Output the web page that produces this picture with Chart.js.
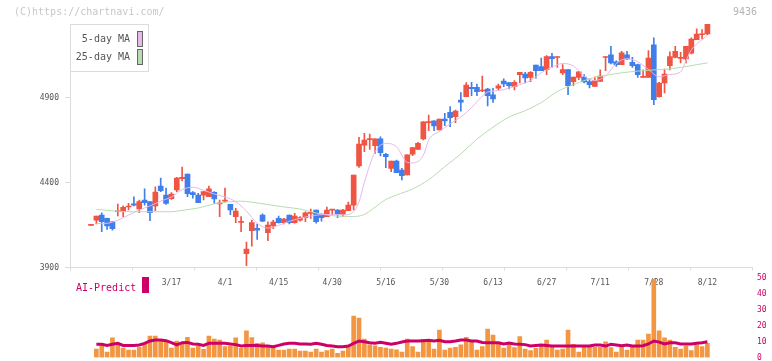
<!DOCTYPE html>
<html>
<head>
<meta charset="utf-8">
<script src="https://cdn.jsdelivr.net/npm/chart.js@4.4.0/dist/chart.umd.min.js"></script>
<style>
  html, body { margin: 0; padding: 0; background: #fff; }
  #wrap { position: relative; width: 772px; height: 361px; overflow: hidden; font-family: 'DejaVu Sans Mono', monospace; }
  #wrap canvas { position: absolute; left: 0; top: 0; }
  .txt { position: absolute; white-space: pre; font-size: 10px; line-height: 12px; }
</style>
</head>
<body>
<div id="wrap">
  <canvas id="priceChart" width="772" height="361"></canvas>
  <canvas id="volChart" width="772" height="361"></canvas>
  <div class="txt" style="left:14px;top:6px;color:#c8c8c8">(C)https://chartnavi.com/</div>
  <div class="txt" style="right:15px;top:6px;color:#b4b4b4">9436</div>
  <div class="txt" style="left:76px;top:282px;color:#cc0066">AI-Predict</div>
  <div style="position:absolute;left:142px;top:277px;width:7px;height:16px;background:#cc0066"></div>
</div>
<script>
// x axis labels (trading day index -> date)
const labelIdx = [15, 25, 35, 45, 55, 65, 75, 85, 95, 105, 115];
const xLabels = ['3/17', '4/1', '4/15', '4/30', '5/16', '5/30', '6/13', '6/27', '7/11', '7/28', '8/12'];
const yTicks = [3900, 4400, 4900];
const volTicks = [0, 10, 20, 30, 40, 50];

// daily candles, index 0 .. 115
const open = [
  4148, 4179, 4209, 4189, 4169, 4228, 4228, 4256, 4275, 4244,
  4297, 4287, 4262, 4379, 4326, 4305, 4356, 4422, 4450, 4340,
  4326, 4326, 4316, 4342, 4274, 4290, 4271, 4199, 4165, 3981,
  4116, 4130, 4209, 4105, 4144, 4189, 4164, 4209, 4164, 4179,
  4193, 4218, 4238, 4214, 4199, 4237, 4238, 4214, 4234, 4267,
  4497, 4620, 4652, 4616, 4656, 4566, 4483, 4526, 4473, 4444,
  4566, 4595, 4656, 4752, 4762, 4709, 4773, 4813, 4787, 4885,
  4905, 4960, 4960, 4938, 4950, 4915, 4954, 4997, 4987, 4964,
  5034, 5038, 5018, 5091, 5081, 5064, 5140, 5135, 5044, 5064,
  4993, 5018, 5020, 4993, 4965, 4995, 5135, 5150, 5109, 5093,
  5150, 5107, 5093, 5018, 5018, 5209, 4905, 4985, 5087, 5136,
  5130, 5126, 5160, 5240, 5269, 5273
];
const high = [
  4150, 4203, 4222, 4191, 4172, 4273, 4262, 4277, 4315, 4297,
  4362, 4287, 4375, 4426, 4367, 4340, 4430, 4491, 4450, 4346,
  4336, 4346, 4379, 4346, 4297, 4367, 4271, 4248, 4199, 4050,
  4179, 4156, 4215, 4169, 4179, 4203, 4189, 4209, 4218, 4199,
  4228, 4244, 4238, 4216, 4256, 4242, 4240, 4242, 4285, 4444,
  4666, 4689, 4685, 4656, 4669, 4571, 4526, 4532, 4483, 4562,
  4607, 4636, 4758, 4797, 4762, 4773, 4807, 4846, 4826, 4928,
  4987, 4989, 4979, 5026, 4954, 4954, 4979, 5009, 4987, 4999,
  5048, 5048, 5052, 5091, 5132, 5146, 5160, 5140, 5093, 5064,
  5020, 5054, 5034, 5009, 5022, 5062, 5140, 5201, 5116, 5171,
  5171, 5136, 5097, 5062, 5175, 5250, 4989, 5067, 5169, 5201,
  5165, 5201, 5250, 5303, 5299, 5332
];
const low = [
  4147, 4156, 4111, 4124, 4120, 4203, 4199, 4238, 4262, 4222,
  4267, 4175, 4234, 4346, 4271, 4301, 4346, 4409, 4316, 4307,
  4281, 4297, 4316, 4277, 4199, 4285, 4211, 4164, 4111, 3911,
  4026, 4065, 4169, 4058, 4128, 4160, 4156, 4156, 4160, 4173,
  4169, 4189, 4160, 4173, 4199, 4209, 4193, 4199, 4234, 4238,
  4489, 4581, 4595, 4571, 4556, 4487, 4463, 4458, 4415, 4444,
  4558, 4595, 4650, 4705, 4705, 4709, 4734, 4728, 4752, 4820,
  4905, 4911, 4911, 4934, 4850, 4871, 4944, 4964, 4950, 4944,
  4985, 4985, 4993, 5014, 5058, 5034, 5077, 5077, 5034, 4916,
  4969, 5005, 4985, 4956, 4965, 4995, 5058, 5097, 5083, 5093,
  5122, 5077, 5018, 5018, 5018, 4858, 4901, 4926, 5062, 5132,
  5103, 5103, 5156, 5240, 5244, 5269
];
const close = [
  4149, 4203, 4169, 4144, 4128, 4231, 4254, 4258, 4267, 4287,
  4281, 4222, 4344, 4352, 4277, 4332, 4426, 4430, 4334, 4328,
  4281, 4346, 4362, 4303, 4276, 4292, 4238, 4232, 4167, 4009,
  4164, 4120, 4173, 4150, 4167, 4164, 4185, 4164, 4203, 4193,
  4222, 4220, 4169, 4193, 4238, 4239, 4214, 4238, 4267, 4444,
  4626, 4650, 4654, 4656, 4575, 4552, 4526, 4458, 4440, 4562,
  4605, 4630, 4756, 4755, 4732, 4773, 4762, 4781, 4820, 4873,
  4973, 4952, 4934, 4940, 4911, 4891, 4968, 4979, 4970, 4989,
  5048, 5015, 5048, 5058, 5058, 5140, 5128, 5137, 5064, 4969,
  5020, 5050, 4991, 4975, 4999, 5026, 5137, 5103, 5093, 5162,
  5126, 5087, 5034, 5020, 5132, 4887, 4985, 5038, 5140, 5171,
  5132, 5201, 5244, 5273, 5271, 5332
];

// moving averages (index, value)
const ma5Idx = [1, 3, 5, 7, 9, 11, 13, 15, 17, 19, 21, 23, 25, 27, 29, 31, 33, 35, 37, 39,
  41, 44, 47, 49, 50, 51, 53, 55, 57, 59, 60, 62, 63, 65, 67, 69, 71, 72, 74, 76,
  78, 80, 82, 84, 86, 88, 90, 92, 94, 96, 98, 100, 102, 104, 106, 108, 110, 111, 112, 114, 115];
const ma5Val = [4158, 4160, 4178, 4208, 4238, 4262, 4290, 4315, 4358, 4372, 4355, 4332, 4315, 4287, 4232, 4160, 4132, 4148, 4172, 4189,
  4203, 4212, 4209, 4228, 4285, 4400, 4580, 4630, 4610, 4518, 4515, 4560, 4650, 4700, 4745, 4785, 4840, 4875, 4932, 4940,
  4955, 4975, 5000, 5045, 5078, 5100, 5085, 5025, 5000, 5025, 5100, 5128, 5110, 5065, 5022, 5035, 5050, 5116, 5180, 5240, 5265];
const ma25Idx = [1, 3, 5, 8, 12, 15, 17, 20, 23, 26, 28, 30, 33, 36, 39, 41, 43, 46, 49, 51,
  53, 55, 57, 60, 63, 66, 69, 72, 75, 78, 81, 84, 87, 90, 93, 96, 99, 102, 105, 108, 111, 114, 115];
const ma25Val = [4242, 4236, 4231, 4228, 4228, 4228, 4236, 4250, 4274, 4287, 4290, 4284, 4270, 4256, 4244, 4228, 4214, 4202, 4200, 4212,
  4255, 4300, 4326, 4362, 4416, 4493, 4568, 4655, 4725, 4785, 4822, 4870, 4935, 4975, 5010, 5030, 5045, 5055, 5062, 5068, 5082, 5098, 5103];

// volume and AI-Predict, from index 1 .. 115
const volStart = 1;
const volume = [
  5.3, 8.9, 3.4, 12.3, 7.9, 6.0, 4.7, 4.7, 6.4, 8.9,
  13.5, 13.5, 11.4, 9.9, 6.0, 10.4, 9.3, 12.7, 6.0, 7.2,
  5.1, 13.5, 11.6, 11.0, 6.8, 7.2, 12.3, 5.8, 16.7, 12.5,
  8.9, 9.3, 7.2, 6.4, 4.7, 4.7, 5.3, 5.3, 4.1, 4.1,
  3.4, 5.3, 3.4, 4.3, 5.3, 2.6, 4.1, 6.8, 26.1, 24.8,
  11.6, 7.9, 7.4, 6.4, 6.0, 5.3, 4.9, 3.4, 11.6, 6.8,
  3.4, 11.4, 9.9, 5.3, 17.3, 4.7, 6.0, 6.4, 7.9, 12.7,
  10.2, 4.7, 6.8, 17.9, 14.1, 8.9, 6.0, 8.9, 6.2, 13.1,
  5.3, 4.3, 5.8, 7.9, 11.0, 6.4, 4.7, 5.3, 17.3, 8.3,
  3.4, 6.4, 6.4, 6.4, 6.4, 9.9, 6.2, 3.4, 6.8, 4.7,
  7.4, 11.0, 11.0, 14.8, 49.1, 16.7, 12.3, 11.0, 6.4, 5.3,
  7.2, 4.3, 7.9, 6.8, 8.9
];
const aiPredict = [
  8.3, 8.3, 7.6, 8.3, 8.9, 7.6, 7.6, 7.6, 7.9, 8.9,
  10.4, 11.0, 11.0, 10.6, 9.3, 7.9, 9.3, 9.5, 8.5, 8.3,
  7.6, 8.9, 8.9, 8.9, 8.9, 8.5, 8.1, 7.2, 7.6, 7.6,
  7.6, 7.2, 7.2, 6.8, 7.6, 8.5, 8.9, 8.9, 8.5, 8.5,
  8.3, 8.9, 8.3, 7.6, 7.2, 6.8, 6.8, 7.2, 8.9, 10.4,
  9.9, 9.3, 8.9, 9.5, 8.9, 8.3, 8.9, 9.7, 10.4, 10.4,
  10.4, 10.6, 10.8, 10.4, 10.8, 9.9, 9.9, 10.4, 11.0, 11.0,
  10.4, 10.4, 9.5, 9.3, 9.3, 9.3, 8.5, 9.1, 8.5, 8.3,
  8.1, 7.2, 7.6, 7.9, 7.6, 7.2, 7.2, 7.2, 7.2, 7.2,
  7.2, 7.2, 7.2, 7.9, 7.9, 7.2, 8.3, 7.9, 7.4, 7.9,
  7.2, 7.2, 7.4, 8.5, 10.4, 9.7, 8.5, 9.3, 9.3, 8.5,
  8.5, 8.5, 8.9, 9.3, 9.9
];

const UP = 'rgb(240,84,66)';
const DOWN = 'rgb(64,126,236)';
const MA5_COLOR = 'rgb(232,184,232)';
const MA25_COLOR = 'rgb(184,220,176)';
const VOL_COLOR = 'rgb(242,150,66)';
const AI_COLOR = 'rgb(204,0,102)';
const AXIS_COLOR = '#dcdcdc';
const X_MIN = -3.92, X_MAX = 123.32;

Chart.defaults.font.family = "'DejaVu Sans Mono', monospace";
Chart.defaults.font.size = 8;

const idx = open.map((v, i) => i);
const candleColor = c => close[c.dataIndex] >= open[c.dataIndex] ? UP : DOWN;

// little legend box top-left (label + swatch)
const maLegend = {
    id: 'maLegend',
    afterDraw(chart) {
        const ctx = chart.ctx;
        const items = chart.data.datasets.filter(d => d.type === 'line');
        ctx.save();
        ctx.fillStyle = '#fff';
        ctx.strokeStyle = AXIS_COLOR;
        ctx.lineWidth = 1;
        ctx.fillRect(70.5, 24.5, 78, 47);
        ctx.strokeRect(70.5, 24.5, 78, 47);
        ctx.font = "10px 'DejaVu Sans Mono'";
        ctx.textAlign = 'right';
        ctx.textBaseline = 'middle';
        items.forEach((d, n) => {
            const y = 39 + n * 18;
            ctx.fillStyle = '#555';
            ctx.fillText(d.label, 130, y);
            ctx.fillStyle = d.borderColor;
            ctx.fillRect(137.5, y - 7.5, 5, 15);
            ctx.strokeStyle = '#666';
            ctx.strokeRect(137.5, y - 7.5, 5, 15);
        });
        ctx.restore();
    }
};

new Chart(document.getElementById('priceChart'), {
    type: 'bar',
    data: {
        datasets: [{
            type: 'line',
            label: '5-day MA',
            data: ma5Idx.map((x, n) => ({ x: x, y: ma5Val[n] })),
            borderColor: MA5_COLOR,
            borderWidth: 1,
            pointRadius: 0,
            cubicInterpolationMode: 'monotone',
            order: 0
        }, {
            type: 'line',
            label: '25-day MA',
            data: ma25Idx.map((x, n) => ({ x: x, y: ma25Val[n] })),
            borderColor: MA25_COLOR,
            borderWidth: 1,
            pointRadius: 0,
            cubicInterpolationMode: 'monotone',
            order: 0
        }, {
            label: 'body',
            data: idx.map(i => ({ x: i, y: [open[i], close[i]] })),
            backgroundColor: candleColor,
            barThickness: 5,
            minBarLength: 1,
            grouped: false,
            order: 1
        }, {
            label: 'wick',
            data: idx.map(i => ({ x: i, y: [low[i], high[i]] })),
            backgroundColor: candleColor,
            barThickness: 1,
            grouped: false,
            order: 2
        }]
    },
    options: {
        responsive: false,
        animation: false,
        layout: { padding: { left: 0, right: 20, top: 24, bottom: 0 } },
        plugins: { legend: { display: false }, tooltip: { enabled: false } },
        scales: {
            x: {
                type: 'linear',
                min: X_MIN,
                max: X_MAX,
                offset: false,
                afterBuildTicks(s) {
                    const marks = [];
                    for (let j = 0; j <= 11; j++) {
                        marks.push({ value: s.min + (s.max - s.min) * j / 11, mark: true });
                    }
                    s.ticks = marks.concat(labelIdx.map(v => ({ value: v })));
                },
                afterFit(s) { s.height = 361 - 267.5; s.paddingLeft = 0; s.paddingRight = 0; },
                grid: {
                    offset: false,
                    drawOnChartArea: false,
                    tickLength: 3,
                    color: c => (c.tick && c.tick.mark) ? AXIS_COLOR : 'rgba(0,0,0,0)'
                },
                border: { color: AXIS_COLOR },
                ticks: {
                    autoSkip: false,
                    maxRotation: 0,
                    padding: 8,
                    color: '#555',
                    callback: (v, i, ticks) => ticks[i].mark ? '' : xLabels[labelIdx.indexOf(v)]
                }
            },
            y: {
                min: 3900,
                max: 5332,
                afterBuildTicks(s) { s.ticks = yTicks.map(v => ({ value: v })); },
                afterFit(s) { s.width = 70; s.paddingTop = 0; s.paddingBottom = 0; },
                grid: { drawOnChartArea: false, tickLength: 5, color: AXIS_COLOR },
                border: { color: AXIS_COLOR },
                ticks: { padding: 6, color: '#555', callback: v => String(v) }
            }
        }
    },
    plugins: [maLegend]
});

new Chart(document.getElementById('volChart'), {
    type: 'bar',
    data: {
        datasets: [{
            type: 'line',
            label: 'AI-Predict',
            data: aiPredict.map((v, n) => ({ x: n + volStart, y: v })),
            borderColor: AI_COLOR,
            borderWidth: 3,
            pointRadius: 0,
            order: 0
        }, {
            label: 'Volume',
            data: volume.map((v, n) => ({ x: n + volStart, y: v })),
            backgroundColor: VOL_COLOR,
            barThickness: 4,
            order: 1
        }]
    },
    options: {
        responsive: false,
        animation: false,
        layout: { padding: { left: 70, right: 0, top: 278, bottom: 3.5 } },
        plugins: { legend: { display: false }, tooltip: { enabled: false } },
        scales: {
            x: { type: 'linear', min: X_MIN, max: X_MAX, offset: false, display: false },
            y: {
                position: 'right',
                min: 0,
                max: 50,
                afterBuildTicks(s) { s.ticks = volTicks.map(v => ({ value: v })); },
                afterFit(s) { s.width = 20; s.paddingTop = 0; s.paddingBottom = 0; },
                grid: { display: false, drawTicks: false },
                border: { display: false },
                ticks: { padding: 5, color: AI_COLOR, callback: v => String(v) }
            }
        }
    }
});
</script>
</body>
</html>
